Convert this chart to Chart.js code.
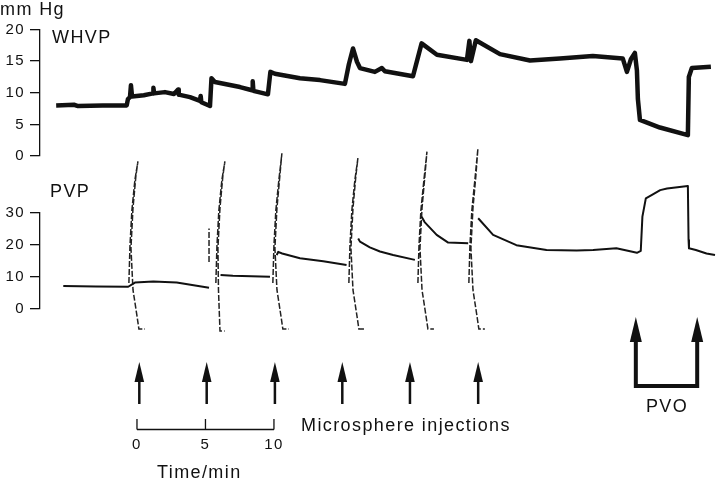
<!DOCTYPE html>
<html>
<head>
<meta charset="utf-8">
<script src="https://cdn.jsdelivr.net/npm/chart.js@4.4.0/dist/chart.umd.min.js"></script>
<style>
  html, body { margin: 0; padding: 0; background: #fff; }
  #rec { display: block; }
</style>
</head>
<body>
<canvas id="rec" width="720" height="500"></canvas>
<script>
// ---- data (time in min, pressure in mm Hg) ----
const whvpTrace = [
  [-5.9, 8.0], [-4.6, 8.1], [-4.3, 7.9], [-2.5, 8.0], [-0.75, 8.0], [-0.66, 9.0],
  [-0.51, 9.3], [-0.44, 11.2], [-0.36, 9.4], [0.5, 9.6], [1.17, 9.9], [1.2, 10.8],
  [1.25, 9.9], [2.04, 10.1], [2.7, 9.8], [3.0, 10.5], [3.05, 9.7], [3.87, 9.3],
  [4.6, 8.7], [4.65, 9.5], [4.7, 8.5], [5.33, 7.9], [5.44, 12.3], [5.69, 11.7],
  [7.52, 10.9], [8.4, 10.4], [8.45, 11.8], [8.5, 10.3], [9.56, 9.75], [9.74, 13.3],
  [10.07, 13.0], [11.9, 12.3], [13.36, 12.0], [15.18, 11.4], [15.47, 14.5], [15.77, 17.0],
  [16.06, 14.9], [16.28, 13.9], [17.37, 13.3], [17.88, 13.9], [18.1, 13.4], [20.15, 12.6],
  [20.44, 15.0], [20.78, 17.8], [21.9, 16.0], [24.09, 15.2], [24.27, 18.2], [24.38, 15.0],
  [24.74, 18.3], [26.5, 16.1], [28.69, 15.1], [30.88, 15.4], [33.28, 15.8], [35.47, 15.4],
  [35.77, 13.3], [36.06, 15.3], [36.35, 16.3], [36.5, 13.5], [36.57, 9.0], [36.72, 5.7],
  [38.18, 4.5], [40.22, 3.3], [40.29, 12.5], [40.51, 13.9], [41.9, 14.1]
];

const pvpTrace = [
  [-5.38, 7.0], [-3.0, 6.9], [-0.64, 6.8], [-0.15, 8.1], [1.19, 8.4], [2.9, 8.1], [5.26, 6.5],
  [5.7, null],
  [6.1, 10.5], [7.0, 10.2], [9.71, 9.9],
  [10.0, null],
  [10.2, 16.7], [10.31, 17.7], [10.6, 17.2], [11.9, 15.7], [13.6, 14.8], [15.3, 13.6],
  [15.8, null],
  [16.15, 21.9], [16.28, 20.9], [17.0, 19.1], [17.74, 17.8], [18.7, 16.7], [20.29, 15.2],
  [20.5, null],
  [20.78, 28.7], [21.0, 27.0], [21.88, 23.0], [22.72, 20.6], [24.18, 20.4],
  [24.5, null],
  [24.91, 28.2], [26.0, 23.0], [27.7, 19.8], [29.9, 18.3], [32.1, 18.1], [33.3, 18.3],
  [35.0, 18.8], [36.5, 17.4], [36.78, 18.0], [36.9, 28.7], [37.15, 34.4], [37.6, 35.5],
  [38.2, 37.0], [38.7, 37.5], [40.22, 38.3], [40.27, 21.4], [40.3, 18.8], [40.8, 18.3],
  [41.58, 17.2], [42.2, 16.7]
];

// injection artefacts: pen swings up and down the recorder arc
const pvpSpikes = [
  [-0.59, 8.0], [-0.51, 19.8], [-0.37, 30.8], [-0.15, 40.2], [0.07, 46.0], [-0.08, 41.4],
  [-0.29, 31.4], [-0.44, 18.9], [-0.29, 5.8], [0.0, -2.3], [0.14, -6.4], [0.58, -6.4],
  [0.6, null],
  [5.26, 14.5], [5.26, 25.0],
  [5.3, null],
  [5.76, 8.0], [5.84, 19.8], [5.98, 30.8], [6.2, 40.2], [6.42, 46.0], [6.27, 41.4],
  [6.06, 31.4], [5.91, 18.9], [5.95, 5.8], [6.02, -2.3], [6.06, -7.0], [6.4, -7.0],
  [6.5, null],
  [9.92, 8.0], [10.0, 19.8], [10.14, 30.8], [10.36, 40.2], [10.58, 48.5], [10.43, 41.4],
  [10.22, 31.4], [10.07, 18.9], [10.22, 5.8], [10.51, -2.3], [10.65, -6.4], [11.09, -6.4],
  [11.1, null],
  [15.47, 8.0], [15.55, 19.8], [15.69, 30.8], [15.91, 40.2], [16.13, 47.0], [15.98, 41.4],
  [15.77, 31.4], [15.62, 18.9], [15.77, 5.8], [16.06, -2.3], [16.2, -6.4], [16.64, -6.4],
  [16.7, null],
  [20.51, 8.0], [20.59, 19.8], [20.73, 30.8], [20.95, 40.2], [21.17, 49.0], [21.02, 41.4],
  [20.81, 31.4], [20.66, 18.9], [20.81, 5.8], [21.1, -2.3], [21.24, -6.4], [21.68, -6.4],
  [21.7, null],
  [24.23, 8.0], [24.31, 19.8], [24.45, 30.8], [24.67, 40.2], [24.89, 50.0], [24.74, 41.4],
  [24.53, 31.4], [24.38, 18.9], [24.53, 5.8], [24.82, -2.3], [24.96, -6.4], [25.4, -6.4]
];

const injectionTimes = [0.17, 5.09, 10.07, 14.99, 19.93, 24.91];
const pvoTimes = [36.42, 40.9];
const timeBarTicks = [0, 5, 10];
const whvpTicks = [0, 5, 10, 15, 20];
const pvpTicks = [0, 10, 20, 30];

const FONT = '"Liberation Sans", Arial, Helvetica, sans-serif';
const INK = "#111";

function toPoints(pairs) {
  return pairs.map(function (p) { return { x: p[0], y: p[1] }; });
}

// fixed axis block width so both pressure axes line up
function fixWidth(scale) {
  scale.width = 40;
}

const annotations = {
  id: "annotations",
  beforeDraw(chart) {
    chart.ctx.letterSpacing = "1.4px";
  },
  afterDraw(chart) {
    const ctx = chart.ctx;
    const x = chart.scales.x;
    ctx.save();
    ctx.fillStyle = INK;
    ctx.strokeStyle = INK;
    ctx.letterSpacing = "1.4px";
    ctx.font = "18px " + FONT;
    ctx.textBaseline = "alphabetic";
    ctx.textAlign = "left";
    ctx.fillText("mm Hg", 0, 15);
    ctx.fillText("WHVP", 52, 43);
    ctx.fillText("PVP", 50, 197);
    ctx.fillText("Microsphere injections", 301, 431);
    ctx.fillText("Time/min", 157, 478);
    ctx.textAlign = "center";
    ctx.fillText("PVO", 667, 412);

    // injection arrows
    injectionTimes.forEach(function (t) {
      const px = x.getPixelForValue(t);
      ctx.lineWidth = 2.5;
      ctx.beginPath();
      ctx.moveTo(px, 404);
      ctx.lineTo(px, 380);
      ctx.stroke();
      ctx.beginPath();
      ctx.moveTo(px - 4.8, 382);
      ctx.lineTo(px + 4.8, 382);
      ctx.lineTo(px, 362);
      ctx.closePath();
      ctx.fill();
    });

    // PVO bracket
    const pl = x.getPixelForValue(pvoTimes[0]);
    const pr = x.getPixelForValue(pvoTimes[1]);
    ctx.lineWidth = 4;
    ctx.lineJoin = "miter";
    ctx.beginPath();
    ctx.moveTo(pl, 340);
    ctx.lineTo(pl, 386);
    ctx.lineTo(pr, 386);
    ctx.lineTo(pr, 340);
    ctx.stroke();
    [pl, pr].forEach(function (px) {
      ctx.beginPath();
      ctx.moveTo(px - 6, 342);
      ctx.lineTo(px + 6, 342);
      ctx.lineTo(px, 317);
      ctx.closePath();
      ctx.fill();
    });

    // time scale bar
    const x0 = x.getPixelForValue(timeBarTicks[0]);
    const x1 = x.getPixelForValue(timeBarTicks[timeBarTicks.length - 1]);
    ctx.lineWidth = 1.3;
    ctx.beginPath();
    ctx.moveTo(x0, 429.5);
    ctx.lineTo(x1, 429.5);
    timeBarTicks.forEach(function (t) {
      const px = x.getPixelForValue(t);
      ctx.moveTo(px, 419);
      ctx.lineTo(px, 429.5);
    });
    ctx.stroke();
    ctx.font = "15px " + FONT;
    timeBarTicks.forEach(function (t) {
      ctx.fillText(String(t), x.getPixelForValue(t), 449);
    });
    ctx.restore();
  },
};

const tickStyle = { font: { family: FONT, size: 15 }, color: INK, padding: 5, autoSkip: false };
const gridStyle = { drawOnChartArea: false, tickLength: 10, color: INK, lineWidth: 1.3 };
const borderStyle = { color: INK, width: 1.3 };

new Chart(document.getElementById("rec"), {
  type: "line",
  data: {
    datasets: [
      {
        label: "WHVP",
        data: toPoints(whvpTrace),
        yAxisID: "yW",
        borderColor: INK,
        borderWidth: 4.5,
        pointRadius: 0,
        tension: 0,
        clip: false,
        borderJoinStyle: "round",
      },
      {
        label: "PVP",
        data: toPoints(pvpTrace),
        yAxisID: "yP",
        borderColor: INK,
        borderWidth: 2,
        pointRadius: 0,
        tension: 0,
        spanGaps: false,
        clip: false,
        borderJoinStyle: "round",
      },
      {
        label: "PVP artefacts",
        data: toPoints(pvpSpikes),
        yAxisID: "yP",
        borderColor: "#222",
        borderWidth: 1.5,
        borderDash: [6, 2],
        pointRadius: 0,
        tension: 0,
        spanGaps: false,
        clip: false,
      },
    ],
  },
  options: {
    responsive: false,
    animation: false,
    devicePixelRatio: 1,
    layout: {
      padding: { top: 29.5, bottom: 191.5, left: 0, right: 5 },
    },
    plugins: {
      legend: { display: false },
      tooltip: { enabled: false },
    },
    scales: {
      x: { type: "linear", min: -7.08, max: 42.2, display: false },
      yP: {
        type: "linear",
        position: "left",
        stack: "rec",
        stackWeight: 96,
        weight: 1,
        min: 0,
        max: 30,
        afterBuildTicks: function (s) { s.ticks = pvpTicks.map(function (v) { return { value: v }; }); },
        ticks: tickStyle,
        grid: gridStyle,
        border: borderStyle,
        afterFit: fixWidth,
      },
      yGap: {
        type: "linear",
        position: "left",
        stack: "rec",
        stackWeight: 56.5,
        weight: 2,
        ticks: { display: false },
        grid: { display: false },
        border: { display: false },
        afterFit: fixWidth,
      },
      yW: {
        type: "linear",
        position: "left",
        stack: "rec",
        stackWeight: 126.5,
        weight: 3,
        min: 0,
        max: 20,
        afterBuildTicks: function (s) { s.ticks = whvpTicks.map(function (v) { return { value: v }; }); },
        ticks: tickStyle,
        grid: gridStyle,
        border: borderStyle,
        afterFit: fixWidth,
      },
    },
  },
  plugins: [annotations],
});
</script>
</body>
</html>
